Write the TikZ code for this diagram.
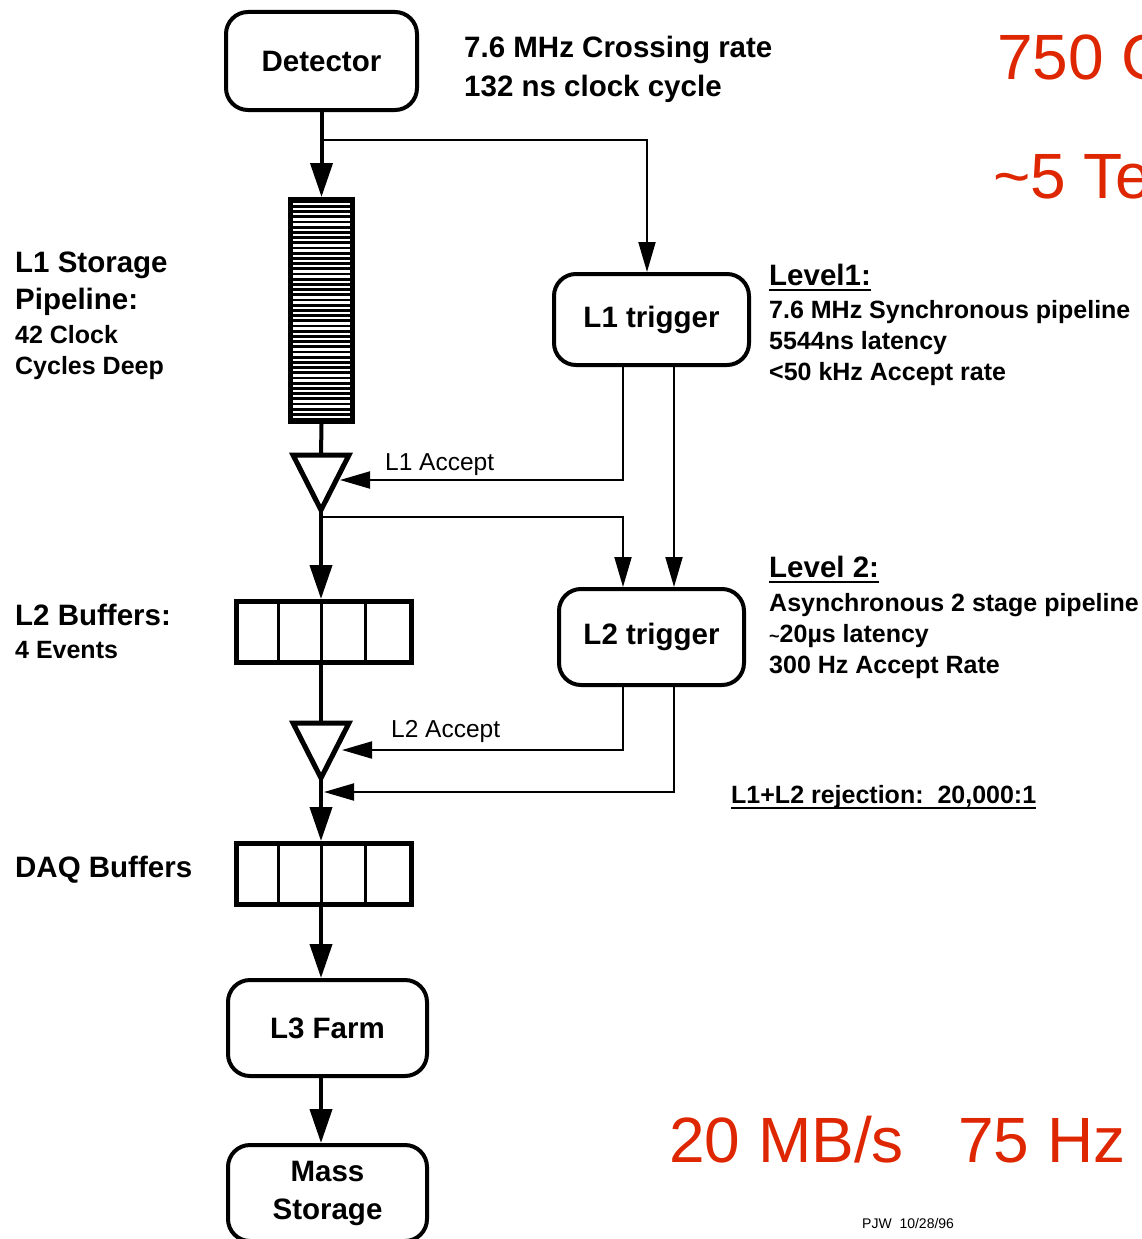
\documentclass[tikz,border=0pt]{standalone}
\usepackage{fontspec}
\setmainfont{Liberation Sans}
\usetikzlibrary{arrows.meta}
\definecolor{redtxt}{RGB}{222,38,0}
\begin{document}
\begin{tikzpicture}[x=1pt,y=-1pt,
  box/.style={draw,line width=4pt,rounded corners=22pt,inner sep=0pt,align=center,font=\bfseries\fontsize{29.5}{34}\selectfont},
  buf/.style={draw,line width=5pt,inner sep=0pt,minimum width=175pt,minimum height=61pt},
  mainflow/.style={line width=4pt,-{Triangle[length=34pt,width=22pt]}},
  mainline/.style={line width=4pt},
  sig/.style={line width=2pt,-{Triangle[length=30pt,width=17pt]}},
  tri/.style={line width=5pt,fill=white,line join=miter},
  big/.style={anchor=base west,inner sep=0pt,font=\bfseries\fontsize{29.5}{34}\selectfont},
  mid/.style={anchor=base west,inner sep=0pt,font=\bfseries\fontsize{25}{30}\selectfont},
  lab/.style={anchor=base west,inner sep=0pt,font=\fontsize{24.5}{30}\selectfont},
  redbig/.style={anchor=base west,inner sep=0pt,text=redtxt,font=\fontsize{64}{70}\selectfont},
  small/.style={anchor=base west,inner sep=0pt,font=\fontsize{14}{16}\selectfont},
  uline/.style={line width=2pt}
]
\useasboundingbox (0,0) rectangle (1141,1239);
\clip (0,0) rectangle (1141,1239);
\fill[white] (0,0) rectangle (1141,1239);

% main boxes
\node[box,minimum width=191pt,minimum height=98pt] (det) at (321.5,61) {Detector};
\node[box,minimum width=195pt,minimum height=91pt] (l1t) at (651.5,319.5) {L1 trigger};
\node[box,minimum width=185pt,minimum height=96pt] (l2t) at (651.5,637) {L2 trigger};
\node[box,minimum width=199pt,minimum height=96pt] (l3) at (327.5,1028) {L3 Farm};
\node[box,minimum width=199pt,minimum height=96pt] (ms) at (327.5,1193) {Mass\\[4pt]Storage};

% L1 storage pipeline
\node[draw,line width=5pt,fill=black,minimum width=62pt,minimum height=222pt,inner sep=0pt] (pipe) at (321.5,310.5) {};
\foreach \i in {0,...,41}
  \draw[white,line width=2.3pt] (293,{203.8+\i*5.2}) -- (350,{203.8+\i*5.2});

% buffers
\node[buf] (l2b) at (324,632) {};
\foreach \xx in {278,321,365} \draw[line width=3pt] (\xx,601) -- (\xx,663);
\node[buf] (daq) at (324,874) {};
\foreach \xx in {278,321,365} \draw[line width=3pt] (\xx,843) -- (\xx,905);

% gates (triangles)
\coordinate (t1top) at (321,455);
\coordinate (t1apex) at (321,510);
\coordinate (t1r) at (340,480);
\coordinate (t2top) at (321,723);
\coordinate (t2apex) at (321,778);
\coordinate (t2r) at (342,750);
\coordinate (m2) at (324,792);
\coordinate (b1) at (321.5,140);
\coordinate (b2) at (321,517);

% main flow
\draw[mainflow] (det.south) -- (pipe.north);
\draw[mainline] (pipe.south) -- (t1top);
\draw[mainflow] (t1apex) -- (l2b.north -| t1apex);
\draw[mainline] (l2b.south -| t1apex) -- (t2top);
\draw[mainflow] (t2apex) -- (daq.north -| t2apex);
\draw[mainflow] (daq.south -| t2apex) -- (l3.north -| t2apex);
\draw[mainflow] (l3.south -| t2apex) -- (ms.north -| t2apex);

\draw[tri] (293,455) -- (349,455) -- (321,510) -- cycle;
\draw[tri] (293,723) -- (349,723) -- (321,778) -- cycle;

% signal lines
\draw[sig] (b1) -| ([xshift=-4.5pt]l1t.north);
\draw[sig] ([xshift=-28.5pt]l1t.south) |- (t1r);
\draw[sig] ([xshift=22.5pt]l1t.south) -- ([xshift=22.5pt]l2t.north);
\draw[sig] (b2) -| ([xshift=-28.5pt]l2t.north);
\draw[sig] ([xshift=-28.5pt]l2t.south) |- (t2r);
\draw[sig] ([xshift=22.5pt]l2t.south) |- (m2);

% texts
\node[big] (cr1) at (464,57.5) {7.6 MHz Crossing rate};
\node[big] (cr2) at (464,96.5) {132 ns clock cycle};

\node[big] (ls1) at (15,272) {L1 Storage};
\node[big] (ls2) at (15,309) {Pipeline:};
\node[mid] (ls3) at (15,343.5) {42 Clock};
\node[mid] (ls4) at (15,374.5) {Cycles Deep};
\node[big] (lb1) at (15,625) {L2 Buffers:};
\node[mid] (lb2) at (15,658.5) {4 Events};
\node[big] (db1) at (15,877) {DAQ Buffers};

\node[lab] (acc1) at (385,470.5) {L1 Accept};
\node[lab] (acc2) at (391,737.5) {L2 Accept};

\node[big] (lv1) at (769,285) {Level1:};
\draw[uline] ([yshift=-5pt]lv1.base west) -- ([yshift=-5pt]lv1.base east);
\node[mid] (lv1a) at (769,318) {7.6 MHz Synchronous pipeline};
\node[mid] (lv1b) at (769,349) {5544ns latency};
\node[mid] (lv1c) at (769,380) {<50 kHz Accept rate};

\node[big] (lv2) at (769,577) {Level 2:};
\draw[uline] ([yshift=-5pt]lv2.base west) -- ([yshift=-5pt]lv2.base east);
\node[mid] (lv2a) at (769,611) {Asynchronous 2 stage pipeline};
\node[mid] (lv2b) at (769,642) {{\fontsize{18}{20}\selectfont\textasciitilde}20µs latency};
\node[mid] (lv2c) at (769,673) {300 Hz Accept Rate};

\node[mid] (rej) at (731,803) {L1+L2 rejection:\ \ 20,000:1};
\draw[uline] ([yshift=-5pt]rej.base west) -- ([yshift=-5pt]rej.base east);

\node[redbig] (r1) at (997,79) {750 G};
\node[redbig] (r2) at (993,198) {\textasciitilde5 Te};
\node[redbig] (r3) at (669,1162) {20 MB/s};
\node[redbig] (r4) at (958,1162) {75 Hz};

\node[small] (pjw) at (862,1228) {PJW\ \ 10/28/96};
\end{tikzpicture}
\end{document}
